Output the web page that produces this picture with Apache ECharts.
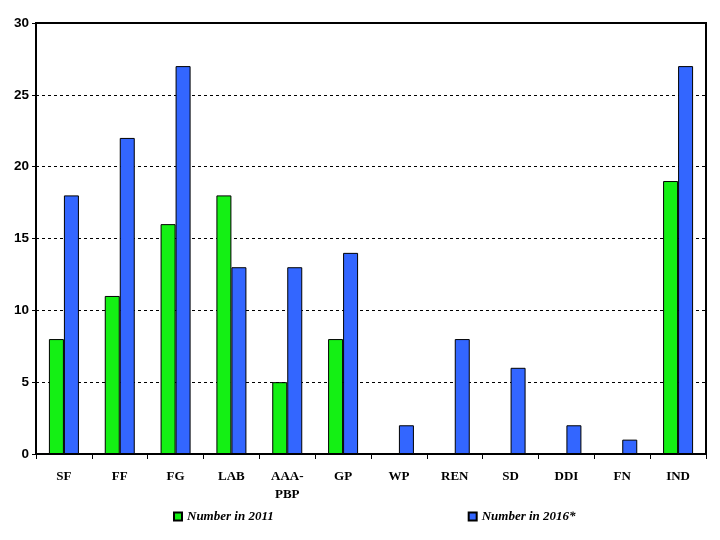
<!DOCTYPE html>
<html><head><meta charset="utf-8">
<script src="https://cdn.jsdelivr.net/npm/echarts@6/dist/echarts.min.js"></script>
<style>html,body{margin:0;padding:0;background:#fff}#c{width:720px;height:540px}</style>
</head><body><div id="c"></div>
<script>
var categories = ['SF','FF','FG','LAB','AAA-\nPBP','GP','WP','REN','SD','DDI','FN','IND'];
var values2011 = [8,11,16,18,5,8,0,0,0,0,0,19];
var values2016 = [18,22,27,13,13,14,2,8,6,2,1,27];
var seriesNames = ['Number in 2011','Number in 2016*'];
var yTicks = {min:0, max:30, interval:5};

var font = '"Liberation Serif", "Times New Roman", serif';
var sans = '"Liberation Sans", Arial, sans-serif';
var chart = echarts.init(document.getElementById('c'), null, {renderer:'canvas'});
chart.setOption({
  animation:false,
  backgroundColor:'#fff',
  grid:{left:36, right:14, top:23, bottom:86, show:true, borderColor:'#000', borderWidth:2, backgroundColor:'transparent'},
  legend:{
    bottom:17, left:173, padding:0, itemGap:194, itemWidth:8, itemHeight:8,
    icon:'rect',
    textStyle:{fontFamily:font, fontStyle:'italic', fontWeight:'bold', fontSize:13, color:'#000'},
    data:seriesNames
  },
  xAxis:{
    type:'category', data:categories,
    axisLine:{lineStyle:{color:'#000', width:2}},
    axisTick:{show:true, length:5, lineStyle:{color:'#000', width:1}},
    axisLabel:{fontFamily:font, fontWeight:'bold', fontSize:13, color:'#000', margin:14, lineHeight:18, interval:0}
  },
  yAxis:{
    type:'value', min:yTicks.min, max:yTicks.max, interval:yTicks.interval,
    axisLine:{show:true, lineStyle:{color:'#000', width:2}},
    axisTick:{show:true, length:4, lineStyle:{color:'#000', width:1}},
    axisLabel:{fontFamily:sans, fontWeight:'bold', fontSize:13.5, color:'#000', margin:7},
    splitLine:{show:true, lineStyle:{color:'#000', width:1, type:[3,3]}}
  },
  series:[
    {name:seriesNames[0], type:'bar', data:values2011, barWidth:15, barGap:'0%',
     itemStyle:{color:'#14f014', borderColor:'#000', borderWidth:1}},
    {name:seriesNames[1], type:'bar', data:values2016, barWidth:15, barGap:'0%',
     itemStyle:{color:'#3366ff', borderColor:'#000', borderWidth:1}}
  ]
});
</script></body></html>
